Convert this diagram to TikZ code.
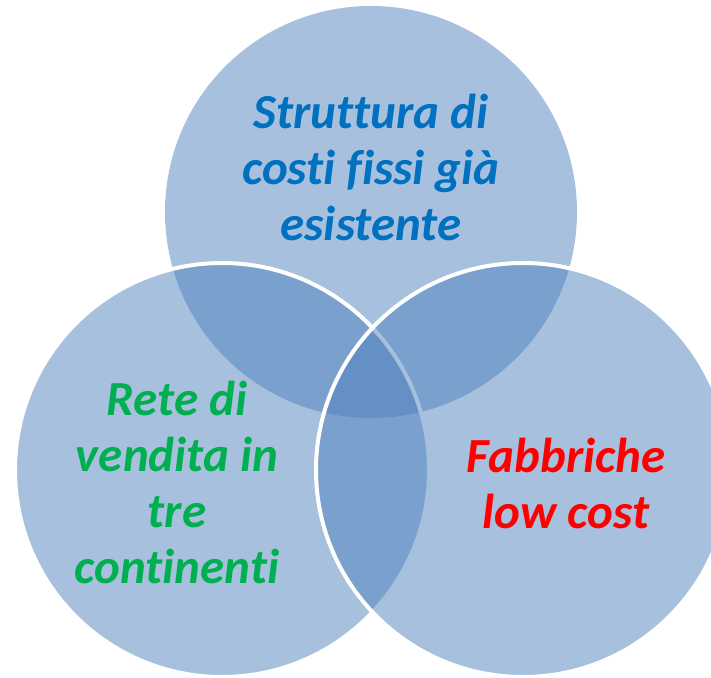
\documentclass[tikz,border=0pt]{standalone}
\usepackage{fontspec}
\setmainfont{Carlito}[Ligatures=NoCommon, RawFeature={-liga;-clig}]
\definecolor{vennblue}{RGB}{79,129,189}
\definecolor{topblue}{RGB}{0,112,192}
\definecolor{txtgreen}{RGB}{0,176,80}
\definecolor{txtred}{RGB}{255,0,0}
\tikzset{
  venn/.style={fill=vennblue, fill opacity=0.5},
  vennrim/.style={venn, draw=white, draw opacity=1, line width=4pt},
  lbl/.style={align=center, anchor=base, inner sep=0pt,
    font=\fontsize{49}{56}\selectfont\bfseries\itshape}
}
\begin{document}
\begin{tikzpicture}[x=1pt,y=-1pt]
\useasboundingbox (0,0) rectangle (711,677);
\clip (0,0) rectangle (711,677);
\path[venn] (371,212) circle[radius=206pt];
\path[vennrim] (222,470) circle[radius=207pt];
\path[vennrim] (523,470) circle[radius=207pt];
\node[lbl, text=topblue] (top) at (371,240) {Struttura di\\costi fissi già\\esistente};
\node[lbl, text=txtgreen] (left) at (177,583) {Rete di\\vendita in\\tre\\continenti};
\node[lbl, text=txtred] (right) at (566,528) {Fabbriche\\low cost};
\end{tikzpicture}
\end{document}
